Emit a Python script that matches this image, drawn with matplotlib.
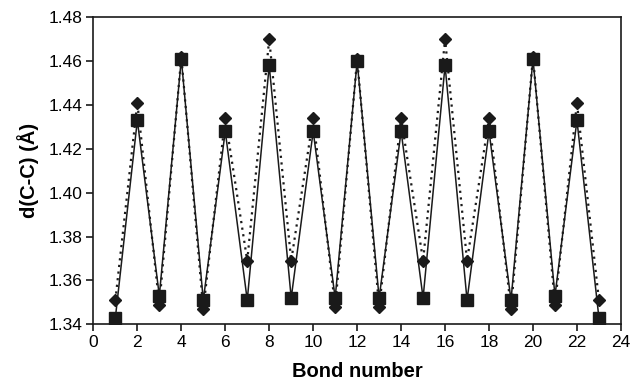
import matplotlib
matplotlib.use("Agg")
import matplotlib.pyplot as plt

plt.rcParams['font.family'] = ['Liberation Sans', 'DejaVu Sans']

# bond index along the chain
bonds = list(range(1, 24))

# square series (solid line)
d_square = [1.343, 1.433, 1.353, 1.461, 1.351, 1.428, 1.351, 1.458, 1.352, 1.428, 1.352, 1.460,
            1.352, 1.428, 1.352, 1.458, 1.351, 1.428, 1.351, 1.461, 1.353, 1.433, 1.343]

# diamond series (dotted line)
d_diamond = [1.351, 1.441, 1.349, 1.462, 1.347, 1.434, 1.369, 1.470, 1.369, 1.434, 1.348, 1.461,
             1.348, 1.434, 1.369, 1.470, 1.369, 1.434, 1.347, 1.462, 1.349, 1.441, 1.351]

x_ticks = list(range(0, 25, 2))
y_ticks = [1.34, 1.36, 1.38, 1.40, 1.42, 1.44, 1.46, 1.48]

fig = plt.figure(figsize=(6.31, 3.82), dpi=100)
ax = fig.add_axes([0.148, 0.151, 0.836, 0.804])

ax.plot(bonds, d_diamond, color='#1a1a1a', linestyle=(0, (1, 2)), linewidth=1.6,
        marker='D', markersize=6, markerfacecolor='#1a1a1a', markeredgecolor='#1a1a1a')
ax.plot(bonds, d_square, color='#1a1a1a', linestyle='-', linewidth=1.1,
        marker='s', markersize=8.5, markerfacecolor='#1a1a1a', markeredgecolor='#1a1a1a')

ax.set_xlim(0, 24)
ax.set_ylim(1.34, 1.48)
ax.set_xticks(x_ticks)
ax.set_yticks(y_ticks)
ax.set_yticklabels([f"{v:.2f}" for v in y_ticks])
ax.tick_params(direction='out', length=5, width=1.2, labelsize=12.5, color='#1a1a1a', pad=3)

for s in ax.spines.values():
    s.set_linewidth(1.2)
    s.set_color('#1a1a1a')

ax.set_xlabel("Bond number", fontsize=14.5, fontweight='bold', labelpad=8)
ax.set_ylabel("d(C-C) (Å)", fontsize=14.5, fontweight='bold', labelpad=7)

fig.savefig("out.png", dpi=100)
